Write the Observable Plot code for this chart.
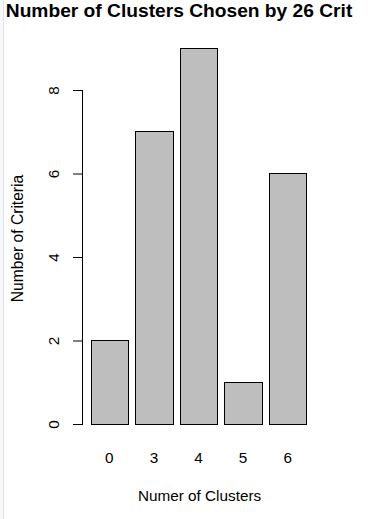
<!DOCTYPE html>
<html>
<head>
<meta charset="utf-8">
<script src="https://cdn.jsdelivr.net/npm/d3@7"></script>
<script src="https://cdn.jsdelivr.net/npm/@observablehq/plot@0.6"></script>
<style>
  html, body { margin: 0; padding: 0; background: #fff; }
  body { width: 386px; height: 519px; position: relative; overflow: hidden; font-family: "Liberation Sans", Arial, sans-serif; }
  #edge { position: absolute; left: 0; top: 0; width: 3px; height: 519px; background: #f7f8fa; border-right: 1px solid #dfe1e5; }
  #title { position: absolute; left: 0; top: 0; white-space: nowrap;
           padding-left: 5.8px; font: bold 19.2px "Liberation Sans", Arial, sans-serif; line-height: 22px; color: #000; }
  #chart { position: absolute; left: 0; top: 0; }
</style>
</head>
<body>
<div id="chart"></div>
<div id="edge"></div>
<div id="title">Number of Clusters Chosen by 26 Crit</div>
<script>
const clusters = ["0", "3", "4", "5", "6"];
const counts = [2, 7, 9, 1, 6];
const yTicks = [0, 2, 4, 6, 8];
const xTitle = "Numer of Clusters";
const yTitle = "Number of Criteria";

const table = clusters.map((c, i) => ({cluster: c, count: counts[i]}));

const chart = Plot.plot({
  width: 386,
  height: 519,
  marginLeft: 82,
  marginRight: 70,
  marginTop: 90,
  marginBottom: 95,
  style: {fontFamily: "'Liberation Sans', Arial, sans-serif", fontSize: "15px", background: "transparent", color: "#000"},
  x: {domain: clusters, range: [91.3, 306.7], paddingInner: 1/6, paddingOuter: 0, round: false, axis: null},
  y: {domain: [0, 8], axis: null},
  marks: [
    Plot.barY(table, {x: "cluster", y: "count", fill: "#BEBEBE", stroke: "#000", strokeWidth: 1, shapeRendering: "crispEdges"}),
    Plot.frame({anchor: "left", stroke: "#000"}),
    Plot.axisY({ticks: yTicks, tickSize: 9, tickFormat: () => "", label: null, stroke: "#000"}),
    Plot.text(yTicks, {y: d => d, text: d => String(d), frameAnchor: "left", textAnchor: "middle", lineAnchor: "middle", dx: -28, rotate: -90, fontSize: 15.3, fill: "#000"}),
    Plot.text(clusters, {x: d => d, text: d => d, frameAnchor: "bottom", textAnchor: "middle", lineAnchor: "middle", dx: -1, dy: 34, fontSize: 15.3, fill: "#000"}),
    Plot.text([xTitle], {text: d => d, frameAnchor: "bottom", textAnchor: "middle", lineAnchor: "middle", dy: 71.5, fontSize: 15.3, fill: "#000"}),
    Plot.text([yTitle], {text: d => d, frameAnchor: "left", textAnchor: "middle", lineAnchor: "middle", dx: -65, dy: -19, rotate: -90, fontSize: 15.6, fill: "#000"})
  ]
});
document.getElementById("chart").appendChild(chart);
</script>
</body>
</html>
